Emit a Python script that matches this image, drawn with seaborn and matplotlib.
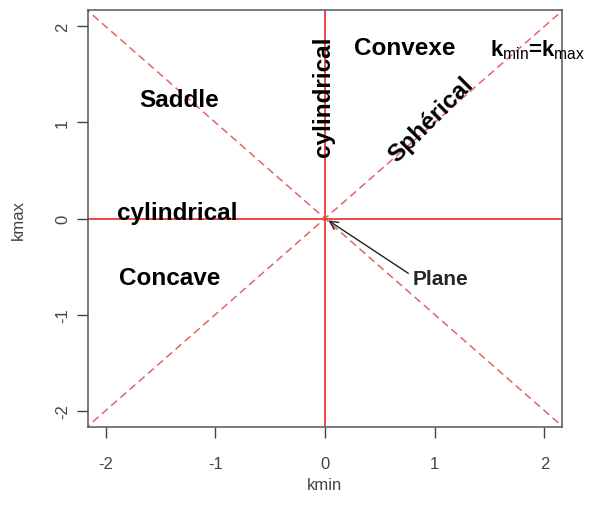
#!/usr/bin/env python3
import pandas as pd
import numpy as np
import seaborn as sns
import matplotlib.pyplot as plt

sns.set_theme(style="white")
plt.rcParams["font.family"] = ["Liberation Sans", "DejaVu Sans"]
plt.rcParams["mathtext.fontset"] = "custom"
plt.rcParams["mathtext.rm"] = "Liberation Sans"
plt.rcParams["mathtext.bf"] = "Liberation Sans:bold"

# curvature space: kmin vs kmax
k_vals = [-2.2, 0.0, 2.2]
ticks = [-2, -1, 0, 1, 2]
tick_labels = ["-2", "-1", "0", "1", "2"]
region_labels = ["Saddle", "Convexe", "Concave", "cylindrical", "cylindrical", "Sphérical"]
plane_label = "Plane"
equal_label = "k$_{\\mathrm{min}}$=k$_{\\mathrm{max}}$"

LIM_X = 2.16
LIM_Y = 2.17

df = pd.DataFrame({"kmin": k_vals, "up": k_vals, "down": [-v for v in k_vals]})

fig = plt.figure(figsize=(5.92, 5.06), dpi=100)
fig.patch.set_facecolor("white")
ax = fig.add_axes([88/592, 1-428/506, (562-88)/592, (428-11)/506])

dash_col = "#e46464"
line_col = "#ee3a3a"
sns.lineplot(data=df, x="kmin", y="up", ax=ax, color=dash_col, lw=1.1, linestyle=(0, (5, 3)))
sns.lineplot(data=df, x="kmin", y="down", ax=ax, color=dash_col, lw=1.1, linestyle=(0, (5, 3)))
ax.axhline(0, color=line_col, lw=1.3)
ax.axvline(0, color=line_col, lw=1.3)

ax.set_xlim(-LIM_X, LIM_X)
ax.set_ylim(-LIM_Y, LIM_Y)
ax.set_xticks(ticks); ax.set_xticklabels(tick_labels)
ax.set_yticks(ticks); ax.set_yticklabels(tick_labels, rotation=90, va="center")
gray = "#444444"
ax.tick_params(axis="both", direction="out", length=8, width=1, color=gray,
               labelcolor=gray, labelsize=12, bottom=True, left=True)
ax.tick_params(axis="x", pad=13)
ax.tick_params(axis="y", pad=5)
for s in ax.spines.values():
    s.set_color("#555555"); s.set_linewidth(1.1)
ax.set_xlabel("kmin", fontsize=12, color=gray, labelpad=4)
ax.set_ylabel("kmax", fontsize=12, color=gray, labelpad=21)

fs = 17.5
tx = dict(fontsize=fs, fontweight="bold", color="black", ha="center", va="center")
ax.text(-1.33, 1.24, region_labels[0], **tx)
ax.text(0.725, 1.78, region_labels[1], **tx)
ax.text(-1.42, -0.61, region_labels[2], **tx)
ax.text(-1.35, 0.06, region_labels[3], **tx)
ax.text(-0.01, 1.28, region_labels[4], rotation=90, **tx)
ax.text(0.97, 1.04, region_labels[5], rotation=45, rotation_mode="anchor", **tx)
ax.text(1.5, 1.76, equal_label, fontsize=16, fontweight="bold", color="black",
        ha="left", va="center", clip_on=False)
ax.annotate(plane_label, xy=(0.03, -0.02), xytext=(0.8, -0.62),
            fontsize=15, fontweight="bold", ha="left", va="center",
            arrowprops=dict(arrowstyle="->", color="#222222", lw=1.0,
                            shrinkA=0, shrinkB=0, relpos=(-0.08, 0.75)))

fig.savefig("out.png", dpi=100)
